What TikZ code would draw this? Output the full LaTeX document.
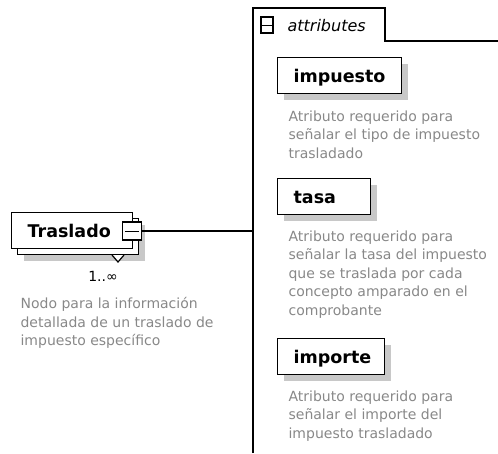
\documentclass[tikz,border=0pt]{standalone}
\usepackage{fontspec}
\setmainfont{DejaVu Sans}
\usetikzlibrary{shadows}
\definecolor{descgray}{RGB}{136,136,136}
\definecolor{shadowgray}{RGB}{200,200,200}

\begin{document}
\begin{tikzpicture}[x=1pt,y=-1pt,line width=1.2pt,
		namebox/.style={draw, fill=white, anchor=north west, text width=#1, align=left,
			inner xsep=16pt, inner ysep=0pt, minimum height=36pt, text height=14pt, text depth=1pt,
			font=\fontsize{17.5}{20}\selectfont\bfseries},
		boxshadow/.style={drop shadow={shadow xshift=#1, shadow yshift=-#1, fill=shadowgray, opacity=1}},
		desc/.style={anchor=north west, align=left, inner sep=0pt, text=descgray,
			font=\fontsize{14}{18.5}\selectfont},
		minusbox/.style={draw, fill=white, inner sep=0pt, minimum width=#1}]
	\useasboundingbox (0,0) rectangle (498,453);
	% attributes group
	\draw (253,453) -- (253,8) -- (385,8) -- (385,41) -- (498,41);
	\node [minusbox=12pt, minimum height=16pt] (attrminus) at (267,25) {};
	\draw [line width=1pt] ([xshift=2pt]attrminus.west) -- ([xshift=-2pt]attrminus.east);
	\node [anchor=west, inner sep=0pt, font=\fontsize{16}{18}\selectfont\itshape] (attrlabel) at (287,25.5) {attributes};
	\node [namebox=92pt, boxshadow=6pt] (impuesto) at (277,57) {impuesto};
	\node [desc] (impuestodesc) at (288,110) {Atributo requerido para\\señalar el tipo de impuesto\\trasladado};
	\node [namebox=61pt, boxshadow=6pt] (tasa) at (277,178) {tasa};
	\node [desc] (tasadesc) at (288,230) {Atributo requerido para\\señalar la tasa del impuesto\\que se traslada por cada\\concepto amparado en el\\comprobante};
	\node [namebox=75pt, boxshadow=6pt] (importe) at (277,338) {importe};
	\node [desc] (importedesc) at (288,390) {Atributo requerido para\\señalar el importe del\\impuesto trasladado};
	% element
	\node [namebox=89pt, boxshadow=12pt, copy shadow={shadow xshift=6pt, shadow yshift=-6pt}] (traslado) at (11,212) {Traslado};
	\draw [fill=white] (112,255) -- (118,262) -- (124,255);
	\node [minusbox=19pt, minimum height=18pt] (trasladominus) at (132,231) {};
	\draw [line width=1pt] ([xshift=3pt]trasladominus.west) -- ([xshift=-3pt]trasladominus.east);
	\coordinate (attrline) at (253,231);
	\draw (trasladominus.east) -- (attrline);
	\node [inner sep=0pt, font=\fontsize{14}{16}\selectfont] (trasladomult) at (103,276) {1..∞};
	\node [desc] (trasladodesc) at (20,297) {Nodo para la información\\detallada de un traslado de\\impuesto específico};
\end{tikzpicture}
\end{document}
